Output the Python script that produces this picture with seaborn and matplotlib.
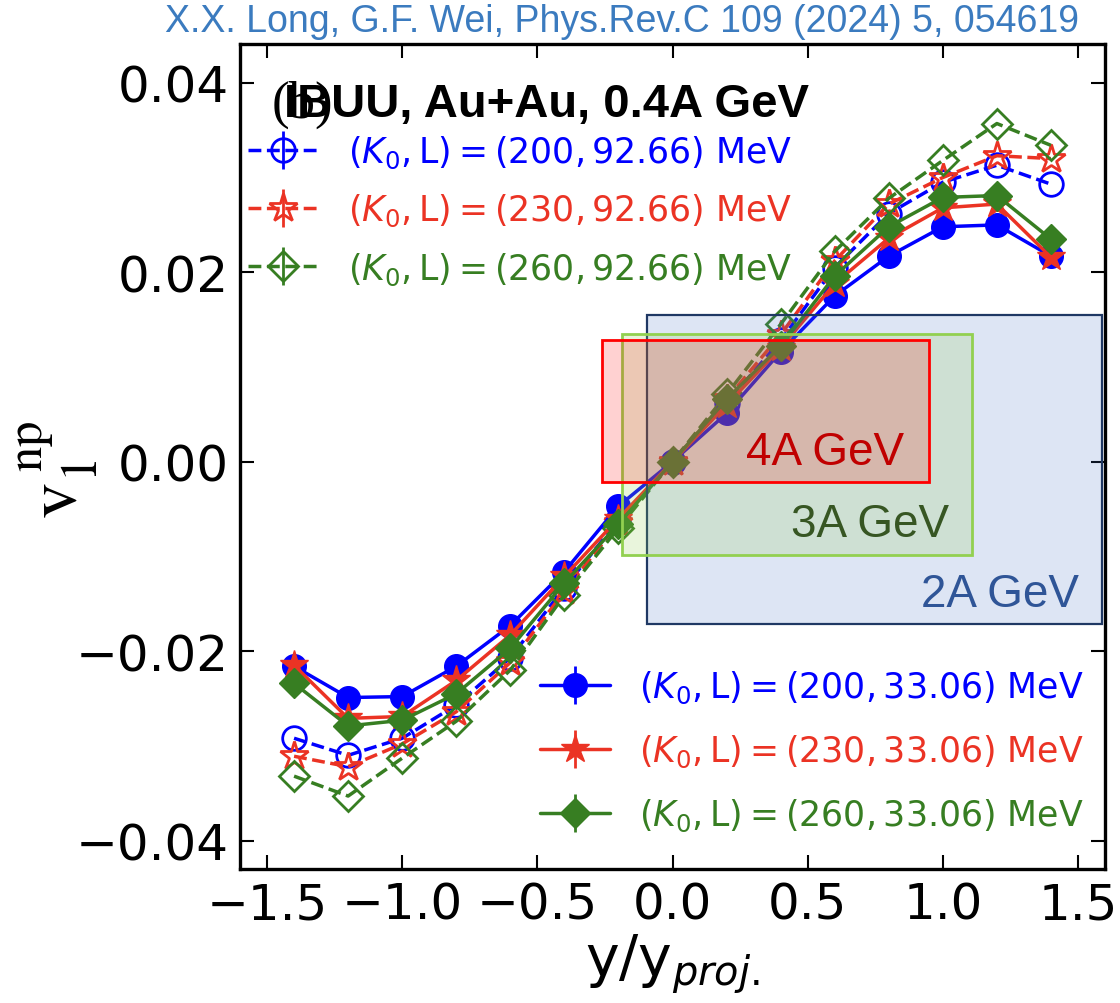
import numpy as np
import pandas as pd
import matplotlib
matplotlib.use("Agg")
import matplotlib.pyplot as plt
from matplotlib.lines import Line2D
from matplotlib.patches import Rectangle
import seaborn as sns

# ---------------- data ----------------
x_vals = [-1.4, -1.2, -1.0, -0.8, -0.6, -0.4, -0.2, 0.0, 0.2, 0.4, 0.6, 0.8, 1.0, 1.2, 1.4]

# soft symmetry energy L = 33.06 MeV (solid, filled)
v1_200_soft = [-0.0216, -0.0249, -0.0248, -0.0216, -0.0173, -0.0116, -0.0047, 0.0, 0.0051, 0.0116, 0.0175, 0.0217, 0.0248, 0.0250, 0.0217]
v1_230_soft = [-0.0215, -0.0271, -0.0269, -0.0231, -0.0183, -0.0121, -0.0060, 0.0, 0.0060, 0.0120, 0.0188, 0.0236, 0.0268, 0.0272, 0.0216]
v1_260_soft = [-0.0234, -0.0279, -0.0273, -0.0245, -0.0197, -0.0128, -0.0066, 0.0, 0.0066, 0.0122, 0.0196, 0.0248, 0.0279, 0.0281, 0.0235]

# stiff symmetry energy L = 92.66 MeV (dashed, open)
v1_200_stiff = [-0.0292, -0.0310, -0.0292, -0.0257, -0.0207, -0.0133, -0.0062, 0.0, 0.0062, 0.0128, 0.0205, 0.0262, 0.0295, 0.0313, 0.0293]
v1_230_stiff = [-0.0311, -0.0322, -0.0298, -0.0264, -0.0212, -0.0137, -0.0065, 0.0, 0.0066, 0.0134, 0.0212, 0.0272, 0.0300, 0.0323, 0.0320]
v1_260_stiff = [-0.0332, -0.0353, -0.0313, -0.0274, -0.0220, -0.0141, -0.0070, 0.0, 0.0071, 0.0145, 0.0222, 0.0278, 0.0318, 0.0357, 0.0334]

labels_soft = [r"$(K_0,\mathrm{L})=(200,33.06)$ MeV",
               r"$(K_0,\mathrm{L})=(230,33.06)$ MeV",
               r"$(K_0,\mathrm{L})=(260,33.06)$ MeV"]
labels_stiff = [r"$(K_0,\mathrm{L})=(200,92.66)$ MeV",
                r"$(K_0,\mathrm{L})=(230,92.66)$ MeV",
                r"$(K_0,\mathrm{L})=(260,92.66)$ MeV"]

# energy-region boxes: (x0, x1, y0, y1, label)
box_2A = [-0.093, 1.59, -0.0171, 0.0155, "2A GeV"]
box_3A = [-0.185, 1.107, -0.0098, 0.0135, "3A GeV"]
box_4A = [-0.26, 0.948, -0.0021, 0.0128, "4A GeV"]
# label anchor (x centre, baseline y)
box_label_pos = {"2A GeV": (1.211, -0.0152), "3A GeV": (0.730, -0.0078), "4A GeV": (0.563, -0.0002)}

x_ticks = [-1.5, -1.0, -0.5, 0.0, 0.5, 1.0, 1.5]
y_ticks = [-0.04, -0.02, 0.0, 0.02, 0.04]

# ---------------- style ----------------
sns.set_style("ticks", {"xtick.direction": "in", "ytick.direction": "in",
                        "axes.edgecolor": "black", "xtick.color": "black",
                        "ytick.color": "black", "text.color": "black",
                        "axes.labelcolor": "black"})
plt.rcParams["font.family"] = ["DejaVu Sans"]
plt.rcParams["mathtext.fontset"] = "dejavusans"

BLUE = "#0000ff"
RED = "#eb3324"
GREEN = "#377e22"
colors = [BLUE, RED, GREEN]
markers = ["o", "*", "D"]
msizes = [17, 21, 15]

fig = plt.figure(figsize=(11.2, 10.04), dpi=100)
ax = fig.add_axes([0.2143, 0.1335, 0.7723, 0.8217])

stiff = [v1_200_stiff, v1_230_stiff, v1_260_stiff]
soft = [v1_200_soft, v1_230_soft, v1_260_soft]

for ys, c, m, ms in zip(stiff, colors, markers, msizes):
    df = pd.DataFrame({"x": x_vals, "y": ys})
    sns.lineplot(data=df, x="x", y="y", ax=ax, color=c, linestyle="--", lw=2.5,
                 marker=m, markersize=ms, markerfacecolor="none",
                 markeredgecolor=c, markeredgewidth=2.0, sort=False, legend=False,
                 zorder=3)

for ys, c, m, ms in zip(soft, colors, markers, msizes):
    df = pd.DataFrame({"x": x_vals, "y": ys})
    sns.lineplot(data=df, x="x", y="y", ax=ax, color=c, linestyle="-", lw=2.5,
                 marker=m, markersize=ms, markerfacecolor=c,
                 markeredgecolor=c, markeredgewidth=1.0, sort=False, legend=False,
                 zorder=4)

# energy boxes (drawn over the curves with transparency)
box_specs = [
    (box_2A, (0.267, 0.447, 0.769, 0.18), "#1f3864", 1.6, "#2f5597"),
    (box_3A, (0.573, 0.816, 0.314, 0.20), "#92d050", 2.0, "#375623"),
    (box_4A, (1.0, 0.0, 0.0, 0.18), "#ff0000", 2.0, "#c00000"),
]
for (x0, x1, y0, y1, lab), fc, ec, lw, tc in box_specs:
    ax.add_patch(Rectangle((x0, y0), x1 - x0, y1 - y0, facecolor=fc,
                           edgecolor=ec, lw=lw, zorder=5))
for (x0, x1, y0, y1, lab), fc, ec, lw, tc in box_specs:
    px, py = box_label_pos[lab]
    ax.text(px, py, lab, color=tc, fontsize=33, family=["Liberation Sans", "DejaVu Sans"],
            ha="center", va="baseline", zorder=6)

ax.set_xlim(-1.6, 1.6)
ax.set_ylim(-0.043, 0.0441)
ax.set_xticks(x_ticks)
ax.set_yticks(y_ticks)
ax.tick_params(axis="both", which="major", direction="in", length=10, width=1.5,
               labelsize=36, top=True, right=True, pad=8, colors="black")
for sp in ax.spines.values():
    sp.set_linewidth(2.4)
    sp.set_color("black")
    sp.set_visible(True)

ax.set_xlabel(r"$\mathrm{y/y}_{proj.}$", fontsize=41, labelpad=2, color="black")
ax.set_ylabel(r"$\mathrm{v}_{1}^{\;\mathrm{np}}$", fontsize=52, color="black",
              math_fontfamily="stix")
ax.yaxis.set_label_coords(-0.162, 0.485)

# panel tag and title
ax.text(0.036, 0.927, "(b)", transform=ax.transAxes, fontsize=38, color="black",
        family=["Liberation Serif", "DejaVu Serif"], va="center", ha="left", zorder=7)
ax.text(0.051, 0.927, "IBUU, Au+Au, 0.4A GeV", transform=ax.transAxes, fontsize=34,
        fontweight="bold", family=["Liberation Sans", "DejaVu Sans"], color="black",
        va="center", ha="left", zorder=8)

# legends with error-bar style handles
def make_handles(ls, filled):
    hs = []
    for c, m, ms in zip(colors, markers, msizes):
        line = Line2D([], [], color=c, ls=ls, lw=2.5, marker=m, markersize=ms,
                      markerfacecolor=(c if filled else "none"), markeredgecolor=c,
                      markeredgewidth=(1.0 if filled else 2.0))
        bar = Line2D([], [], color=c, ls="none", marker="|", markersize=28,
                     markeredgewidth=2.0)
        hs.append((line, bar))
    return hs

leg1 = ax.legend(make_handles("--", False), labels_stiff, loc="upper left",
                 bbox_to_anchor=(0.009, 0.891), frameon=False, fontsize=25,
                 borderpad=0, borderaxespad=0, handlelength=2.0,
                 handletextpad=0.9, labelspacing=0.63, numpoints=1)
for t, c in zip(leg1.get_texts(), colors):
    t.set_color(c)
leg1.set_zorder(9)
ax.add_artist(leg1)

leg2 = ax.legend(make_handles("-", True), labels_soft, loc="lower left",
                 bbox_to_anchor=(0.347, 0.044), frameon=False, fontsize=25,
                 borderpad=0, borderaxespad=0, handlelength=2.0,
                 handletextpad=0.85, labelspacing=0.79, numpoints=1)
for t, c in zip(leg2.get_texts(), colors):
    t.set_color(c)
leg2.set_zorder(9)

fig.text(0.555, 0.978, "X.X. Long, G.F. Wei, Phys.Rev.C 109 (2024) 5, 054619",
         color="#3b7bbf", fontsize=27, family=["Liberation Sans", "DejaVu Sans"],
         ha="center", va="center")

fig.savefig("out.png", dpi=100)
